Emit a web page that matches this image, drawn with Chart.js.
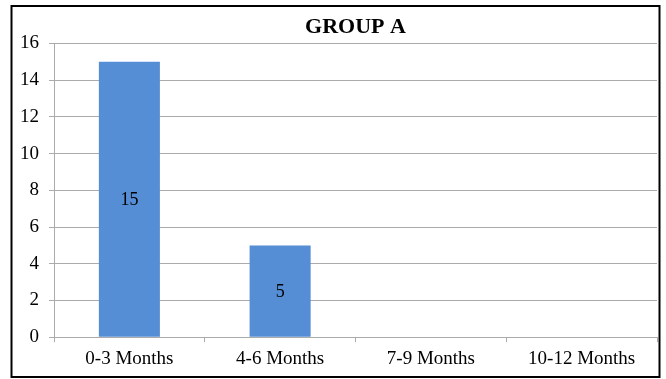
<!DOCTYPE html>
<html>
<head>
<meta charset="utf-8">
<script src="https://cdn.jsdelivr.net/npm/chart.js@4/dist/chart.umd.min.js"></script>
<style>
  html, body { margin: 0; padding: 0; background: #fff; }
  canvas { display: block; }
</style>
</head>
<body>
<canvas id="myChart" width="666" height="379"></canvas>
<script>
const categories = ["0-3 Months", "4-6 Months", "7-9 Months", "10-12 Months"];
const counts = [15, 5, 0, 0];
const yTicks = [0, 2, 4, 6, 8, 10, 12, 14, 16];

const serif = "'Liberation Serif', 'Times New Roman', serif";
const gridGray = "#ababab";

// black frame round the whole picture
const frame = {
  id: "frame",
  afterDraw(chart) {
    const ctx = chart.ctx;
    ctx.save();
    ctx.strokeStyle = "#000";
    ctx.lineWidth = 2;
    ctx.strokeRect(11.5, 6, 648, 371);
    ctx.restore();
  }
};

// value written in the middle of each bar
const barValues = {
  id: "barValues",
  afterDatasetsDraw(chart) {
    const ctx = chart.ctx;
    const meta = chart.getDatasetMeta(0);
    ctx.save();
    ctx.font = "18px " + serif;
    ctx.fillStyle = "#000";
    ctx.textAlign = "center";
    ctx.textBaseline = "middle";
    meta.data.forEach((bar, i) => {
      const v = counts[i];
      if (!v) return;
      ctx.fillText(String(v), bar.x, (bar.y + bar.base) / 2 + 1);
    });
    ctx.restore();
  }
};

new Chart(document.getElementById("myChart"), {
  type: "bar",
  data: {
    labels: categories,
    datasets: [{
      data: counts,
      backgroundColor: "#558ed5",
      borderWidth: 0,
      barPercentage: 0.405,
      categoryPercentage: 1
    }]
  },
  options: {
    responsive: false,
    animation: false,
    devicePixelRatio: 1,
    layout: { padding: { left: 10, right: 9, top: 0, bottom: 4 } },
    plugins: {
      legend: { display: false },
      tooltip: { enabled: false },
      title: {
        display: true,
        text: "GROUP A",
        fullSize: false,
        color: "#000",
        font: { family: serif, size: 22, weight: "bold" },
        padding: { top: 14, bottom: 3 }
      }
    },
    scales: {
      x: {
        offset: true,
        grid: {
          offset: true,
          drawOnChartArea: false,
          drawTicks: true,
          tickLength: 5,
          color: gridGray
        },
        border: { color: gridGray },
        ticks: {
          color: "#000",
          padding: 5,
          maxRotation: 0,
          font: { family: serif, size: 19 }
        }
      },
      y: {
        min: 0,
        max: 16,
        afterBuildTicks(axis) {
          axis.ticks = yTicks.map(v => ({ value: v }));
        },
        grid: { color: gridGray, tickLength: 5 },
        border: { color: gridGray },
        ticks: {
          color: "#000",
          padding: 10,
          font: { family: serif, size: 19 }
        }
      }
    }
  },
  plugins: [frame, barValues]
});
</script>
</body>
</html>
